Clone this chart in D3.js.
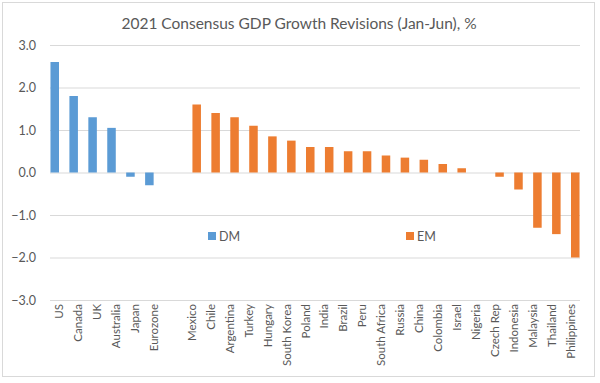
<!DOCTYPE html>
<html>
<head>
<meta charset="utf-8">
<script src="https://cdn.jsdelivr.net/npm/d3@7"></script>
<style>
  body { margin: 0; background: #fff; }
  svg text { font-family: Lato, "Liberation Sans", sans-serif; fill: #595959; }
</style>
</head>
<body>
<div id="chart"></div>
<script>
// categories (blank slot between DM and EM groups)
const categories = ["US", "Canada", "UK", "Australia", "Japan", "Eurozone", "",
  "Mexico", "Chile", "Argentina", "Turkey", "Hungary", "South Korea", "Poland",
  "India", "Brazil", "Peru", "South Africa", "Russia", "China", "Colombia",
  "Israel", "Nigeria", "Czech Rep", "Indonesia", "Malaysia", "Thailand", "Philippines"]
const dmCountries = ["US", "Canada", "UK", "Australia", "Japan", "Eurozone"]
const dmValues = [2.6, 1.8, 1.3, 1.05, -0.1, -0.3]
const emCountries = ["Mexico", "Chile", "Argentina", "Turkey", "Hungary", "South Korea", "Poland",
  "India", "Brazil", "Peru", "South Africa", "Russia", "China", "Colombia",
  "Israel", "Nigeria", "Czech Rep", "Indonesia", "Malaysia", "Thailand", "Philippines"]
const emValues = [1.6, 1.4, 1.3, 1.1, 0.85, 0.75, 0.6, 0.6, 0.5, 0.5, 0.4, 0.35, 0.3, 0.2,
  0.1, 0, -0.1, -0.4, -1.3, -1.45, -2.0]
const seriesNames = ["DM", "EM"]
const yTicks = [3, 2, 1, 0, -1, -2, -3]
const title = "2021 Consensus GDP Growth Revisions (Jan-Jun), %"

const width = 600
const height = 383
const margin = { top: 45, right: 20, bottom: 83, left: 50 }
const colors = d3.scaleOrdinal().domain(seriesNames).range(["#5B9BD5", "#ED7D31"])

const svg = d3.select("#chart")
  .append("svg")
  .attr("width", width)
  .attr("height", height)

// chart area border
svg.append("rect")
  .attr("x", 2.5).attr("y", 2.5)
  .attr("width", 592).attr("height", 374)
  .attr("fill", "#fff")
  .attr("stroke", "#D9D9D9")

const x = d3.scaleBand()
  .domain(d3.range(categories.length))
  .range([margin.left, width - margin.right])
  .paddingInner(0)
  .paddingOuter(0)

const xSeries = d3.scaleBand()
  .domain(seriesNames)
  .range([0, x.bandwidth()])
  .paddingInner(0.1)
  .paddingOuter(0.05)

const y = d3.scaleLinear()
  .domain([-3, 3])
  .range([height - margin.bottom, margin.top])

// gridlines + y labels
svg.append("g")
  .attr("transform", "translate(" + margin.left + ",0)")
  .call(d3.axisLeft(y).tickValues(yTicks).tickFormat(d3.format(".1f"))
    .tickSize(-(width - margin.left - margin.right)).tickPadding(14))
  .call(g => g.select(".domain").remove())
  .call(g => g.selectAll("line").attr("stroke", "#D9D9D9"))
  .call(g => g.selectAll("text")
    .attr("font-size", 12.5)
    .style("font-family", "Lato, 'Liberation Sans', sans-serif")
    .attr("fill", "#595959"))

const bars = []
dmCountries.forEach((c, i) => bars.push({ cat: categories.indexOf(c), s: "DM", v: dmValues[i] }))
emCountries.forEach((c, i) => bars.push({ cat: categories.indexOf(c), s: "EM", v: emValues[i] }))

svg.append("g")
  .selectAll("rect")
  .data(bars.filter(d => d.v !== 0))
  .enter()
  .append("rect")
  .attr("x", d => x(d.cat) + xSeries(d.s))
  .attr("y", d => y(Math.max(0, d.v)))
  .attr("width", xSeries.bandwidth())
  .attr("height", d => Math.abs(y(d.v) - y(0)))
  .attr("fill", d => colors(d.s))

// category labels, rotated
svg.append("g")
  .selectAll("text")
  .data(categories)
  .enter()
  .append("text")
  .attr("transform", (d, i) => "translate(" + (x(i) + x.bandwidth() / 2 + 4) + "," + (y(-3) + 4) + ")rotate(-90)")
  .attr("text-anchor", "end")
  .attr("font-size", 11.5)
  .text(d => d)

// legend (sits inside plot)
const legendX = [208, 406]
const legend = svg.append("g")
  .selectAll("g")
  .data(seriesNames)
  .enter()
  .append("g")
  .attr("transform", (d, i) => "translate(" + legendX[i] + ",236)")
legend.append("rect")
  .attr("x", 0).attr("y", -4)
  .attr("width", 8).attr("height", 8)
  .attr("fill", d => colors(d))
legend.append("text")
  .attr("x", 11).attr("y", 4.5)
  .attr("font-size", 12.5)
  .text(d => d)

svg.append("text")
  .attr("x", 299).attr("y", 29)
  .attr("text-anchor", "middle")
  .attr("font-size", 15.5)
  .text(title)
</script>
</body>
</html>
